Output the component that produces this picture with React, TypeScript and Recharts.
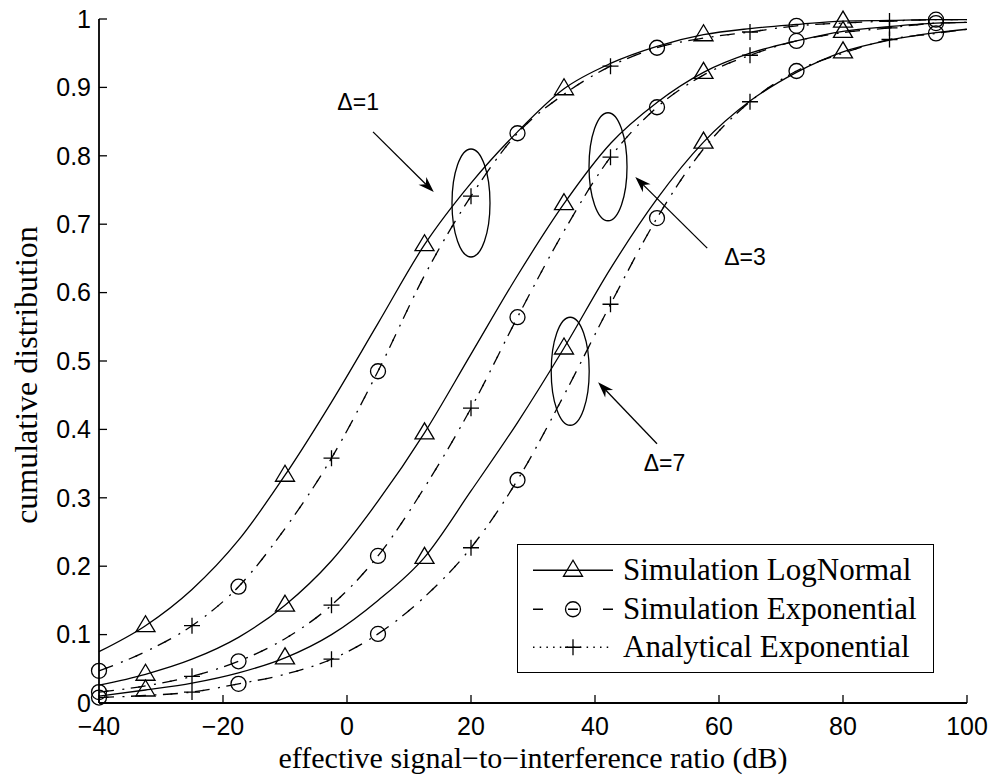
import { LineChart, Line, XAxis, YAxis, ReferenceDot, ReferenceLine } from "recharts";

// effective SIR (dB) sample points, markers sit on every third one per series
const snrDb = [-40, -32.5, -25, -17.5, -10, -2.5, 5, 12.5, 20, 27.5, 35, 42.5, 50, 57.5, 65, 72.5, 80, 87.5, 95, 100];

// Δ = 1
const logNormal1 = [0.075, 0.113, 0.166, 0.238, 0.333, 0.44, 0.555, 0.67, 0.76, 0.835, 0.898, 0.935, 0.96, 0.977, 0.986, 0.992, 0.997, 0.998, 0.999, 0.999];
const simExp1 = [0.047, 0.075, 0.113, 0.17, 0.255, 0.358, 0.485, 0.625, 0.741, 0.833, 0.89, 0.931, 0.958, 0.972, 0.981, 0.99, 0.994, 0.997, 0.999, 0.999];
const anaExp1 = [0.047, 0.075, 0.113, 0.17, 0.255, 0.358, 0.485, 0.625, 0.741, 0.833, 0.89, 0.931, 0.958, 0.972, 0.981, 0.99, 0.994, 0.997, 0.999, 0.999];

// Δ = 3
const logNormal3 = [0.026, 0.042, 0.064, 0.096, 0.143, 0.208, 0.295, 0.395, 0.51, 0.625, 0.73, 0.818, 0.878, 0.922, 0.95, 0.968, 0.982, 0.989, 0.994, 0.995];
const simExp3 = [0.016, 0.025, 0.039, 0.061, 0.094, 0.143, 0.215, 0.315, 0.431, 0.564, 0.69, 0.798, 0.871, 0.918, 0.947, 0.968, 0.98, 0.987, 0.994, 0.995];
const anaExp3 = [0.016, 0.025, 0.039, 0.061, 0.094, 0.143, 0.215, 0.315, 0.431, 0.564, 0.69, 0.798, 0.871, 0.918, 0.947, 0.968, 0.98, 0.987, 0.994, 0.995];

// Δ = 7
const logNormal7 = [0.01, 0.019, 0.029, 0.044, 0.066, 0.1, 0.15, 0.213, 0.31, 0.41, 0.519, 0.635, 0.737, 0.82, 0.88, 0.922, 0.952, 0.969, 0.98, 0.985];
const simExp7 = [0.008, 0.011, 0.016, 0.028, 0.042, 0.064, 0.101, 0.155, 0.227, 0.326, 0.45, 0.583, 0.709, 0.81, 0.879, 0.924, 0.95, 0.97, 0.979, 0.985];
const anaExp7 = [0.008, 0.011, 0.016, 0.028, 0.042, 0.064, 0.101, 0.155, 0.227, 0.326, 0.45, 0.583, 0.709, 0.81, 0.879, 0.924, 0.95, 0.97, 0.979, 0.985];

const triangleAt = [-32.5, -10, 12.5, 35, 57.5, 80];
const circleAt = [-40, -17.5, 5, 27.5, 50, 72.5, 95];
const plusAt = [-25, -2.5, 20, 42.5, 65, 87.5];

const xTicks = [-40, -20, 0, 20, 40, 60, 80, 100];
const yTicks = [0, 0.1, 0.2, 0.3, 0.4, 0.5, 0.6, 0.7, 0.8, 0.9, 1];

// annotations
const deltaLabels = ["Δ=1", "Δ=3", "Δ=7"];
const labelAt = [{ x: 1.8, y: 0.879 }, { x: 64.2, y: 0.653 }, { x: 51.2, y: 0.352 }];
const arrowFrom = [{ x: 4.2, y: 0.835 }, { x: 58.1, y: 0.665 }, { x: 50.0, y: 0.379 }];
const arrowTo = [{ x: 14.0, y: 0.747 }, { x: 46.5, y: 0.769 }, { x: 40.5, y: 0.469 }];
const ellipseAt = [{ x: 20, y: 0.731 }, { x: 42.1, y: 0.784 }, { x: 36.0, y: 0.485 }];

const data = snrDb.map((x, i) => ({
    x,
    ln1: logNormal1[i], se1: simExp1[i], ae1: anaExp1[i],
    ln3: logNormal3[i], se3: simExp3[i], ae3: anaExp3[i],
    ln7: logNormal7[i], se7: simExp7[i], ae7: anaExp7[i],
}));

const SANS = "'Liberation Sans', Arial, Helvetica, sans-serif";
const SERIF = "'Liberation Serif', 'Times New Roman', serif";

const DASHED = "15 17";
const DOTTED = "2 14";

type Kind = "triangle" | "circle" | "plus";

function Marker({ kind, cx, cy }: { kind: Kind; cx: number; cy: number }) {
    const s = { fill: "none", stroke: "#000", strokeWidth: 1.3 };
    if (kind === "triangle") {
        return <polygon {...s} points={`${cx},${cy - 10} ${cx - 9.5},${cy + 6} ${cx + 9.5},${cy + 6}`} />;
    }
    if (kind === "circle") {
        return <circle {...s} cx={cx} cy={cy} r={7.5} />;
    }
    return <path {...s} d={`M${cx - 8},${cy}H${cx + 8}M${cx},${cy - 8}V${cy + 8}`} />;
}

function dotAt(kind: Kind, xs: number[]) {
    return (p: any) => {
        if (!xs.includes(p.payload.x)) return <g key={`n${p.index}`} />;
        return <g key={`m${p.index}`}><Marker kind={kind} cx={p.cx} cy={p.cy} /></g>;
    };
}

function Arrow(p: any) {
    const { x1, y1, x2, y2 } = p;
    const len = Math.hypot(x2 - x1, y2 - y1);
    const ux = (x2 - x1) / len, uy = (y2 - y1) / len;
    const nx = -uy, ny = ux;
    const L = 16, W = 5.5;
    const bx = x2 - ux * L, by = y2 - uy * L;
    const mx = x2 - ux * L * 0.7, my = y2 - uy * L * 0.7;
    return (
        <g>
            <line x1={x1} y1={y1} x2={mx} y2={my} stroke="#000" strokeWidth={1.3} />
            <polygon
                points={`${x2},${y2} ${bx + nx * W},${by + ny * W} ${mx},${my} ${bx - nx * W},${by - ny * W}`}
                fill="#000"
            />
        </g>
    );
}

const series = [
    { key: "se1", kind: "circle" as Kind, at: circleAt, dash: DASHED, offset: 0 },
    { key: "ae1", kind: "plus" as Kind, at: plusAt, dash: DOTTED, offset: -7.5 },
    { key: "ln1", kind: "triangle" as Kind, at: triangleAt, dash: undefined, offset: 0 },
    { key: "se3", kind: "circle" as Kind, at: circleAt, dash: DASHED, offset: 0 },
    { key: "ae3", kind: "plus" as Kind, at: plusAt, dash: DOTTED, offset: -7.5 },
    { key: "ln3", kind: "triangle" as Kind, at: triangleAt, dash: undefined, offset: 0 },
    { key: "se7", kind: "circle" as Kind, at: circleAt, dash: DASHED, offset: 0 },
    { key: "ae7", kind: "plus" as Kind, at: plusAt, dash: DOTTED, offset: -7.5 },
    { key: "ln7", kind: "triangle" as Kind, at: triangleAt, dash: undefined, offset: 0 },
];

const legendRows = [
    { name: "Simulation LogNormal", kind: "triangle" as Kind, dash: undefined },
    { name: "Simulation Exponential", kind: "circle" as Kind, dash: "10 25" },
    { name: "Analytical Exponential", kind: "plus" as Kind, dash: "1.5 5.2" },
];

const tickStyle = { fill: "#000", fontSize: 25, fontFamily: SANS };
const axisStyle = { stroke: "#000", strokeWidth: 1.8 };
const tickLineStyle = { stroke: "#000", strokeWidth: 1.3 };

const fmtX = (v: number) => (v < 0 ? `\u2212${-v}` : `${v}`);

export default function App() {
    return (
        <div style={{ position: "absolute", left: 0, top: 0, width: 995, height: 780, background: "#fff" }}>
            <LineChart width={995} height={780} data={data} margin={{ top: 19, right: 28, bottom: 0, left: 0 }}>
                <XAxis
                    dataKey="x"
                    type="number"
                    domain={[-40, 100]}
                    ticks={xTicks}
                    interval={0}
                    height={77}
                    tickSize={-8}
                    tickMargin={22}
                    tick={tickStyle}
                    tickFormatter={fmtX}
                    axisLine={axisStyle}
                    tickLine={tickLineStyle}
                    label={{
                        value: "effective signal\u2212to\u2212interference ratio (dB)",
                        position: "insideBottom",
                        offset: 12,
                        fill: "#000",
                        fontSize: 30,
                        fontFamily: SERIF,
                    }}
                />
                <XAxis
                    xAxisId="top"
                    orientation="top"
                    dataKey="x"
                    type="number"
                    domain={[-40, 100]}
                    ticks={xTicks}
                    interval={0}
                    height={0}
                    tickSize={-8}
                    tick={false}
                    axisLine={axisStyle}
                    tickLine={tickLineStyle}
                />
                <YAxis
                    type="number"
                    domain={[0, 1]}
                    ticks={yTicks}
                    interval={0}
                    width={99}
                    tickSize={-8}
                    tickMargin={16}
                    tick={tickStyle}
                    axisLine={axisStyle}
                    tickLine={tickLineStyle}
                    label={{
                        value: "cumulative distribution",
                        angle: -90,
                        position: "center",
                        dx: -23.5,
                        dy: 14,
                        fill: "#000",
                        fontSize: 32,
                        fontFamily: SERIF,
                    }}
                />
                <YAxis
                    yAxisId="right"
                    orientation="right"
                    type="number"
                    domain={[0, 1]}
                    ticks={yTicks}
                    interval={0}
                    width={0}
                    tickSize={-8}
                    tick={false}
                    axisLine={axisStyle}
                    tickLine={tickLineStyle}
                />

                {series.map((s) => (
                    <Line
                        key={s.key}
                        type="monotone"
                        dataKey={s.key}
                        stroke="#000"
                        strokeWidth={1.3}
                        strokeDasharray={s.dash}
                        strokeDashoffset={s.offset}
                        dot={dotAt(s.kind, s.at)}
                        activeDot={false}
                        isAnimationActive={false}
                    />
                ))}

                {ellipseAt.map((e, i) => (
                    <ReferenceDot
                        key={`el${i}`}
                        x={e.x}
                        y={e.y}
                        shape={(p: any) => (
                            <ellipse cx={p.cx} cy={p.cy} rx={19} ry={54} fill="none" stroke="#000" strokeWidth={1.3} />
                        )}
                    />
                ))}
                {arrowFrom.map((a, i) => (
                    <ReferenceLine
                        key={`ar${i}`}
                        segment={[a, arrowTo[i]]}
                        shape={(p: any) => <Arrow {...p} />}
                    />
                ))}
                {labelAt.map((l, i) => (
                    <ReferenceDot
                        key={`lb${i}`}
                        x={l.x}
                        y={l.y}
                        shape={(p: any) => (
                            <text
                                x={p.cx}
                                y={p.cy}
                                dy="0.36em"
                                textAnchor="middle"
                                fontFamily={SANS}
                                fontSize={23}
                                fill="#000"
                            >
                                {deltaLabels[i]}
                            </text>
                        )}
                    />
                ))}
            </LineChart>

            {/* legend box */}
            <div
                style={{
                    position: "absolute",
                    left: 517,
                    top: 544,
                    width: 417,
                    height: 129,
                    boxSizing: "border-box",
                    border: "1.5px solid #000",
                    background: "#fff",
                    paddingTop: 6,
                    fontFamily: SERIF,
                    fontSize: 31,
                    color: "#000",
                }}
            >
                {legendRows.map((r) => (
                    <div key={r.name} style={{ display: "flex", alignItems: "center", height: 38.5, lineHeight: "38.5px" }}>
                        <svg width={80} height={38.5} style={{ marginLeft: 15, marginRight: 10, display: "block" }}>
                            <line x1={0} y1={19.25} x2={80} y2={19.25} stroke="#000" strokeWidth={1.3} strokeDasharray={r.dash} />
                            <Marker kind={r.kind} cx={40} cy={19.25} />
                        </svg>
                        <span style={{ whiteSpace: "nowrap" }}>{r.name}</span>
                    </div>
                ))}
            </div>
        </div>
    );
}
